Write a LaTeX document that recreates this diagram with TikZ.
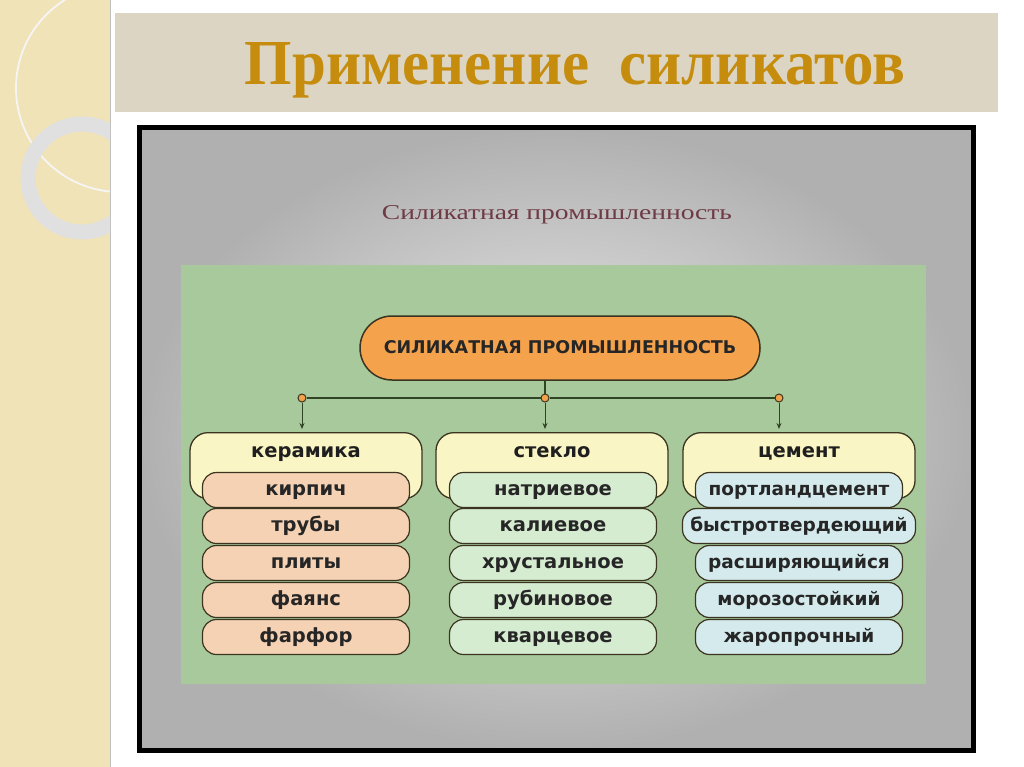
\documentclass[tikz,border=0pt]{standalone}
\usepackage{fontspec}
\setmainfont{Liberation Serif}
\newfontfamily\sansb{DejaVu Sans}
\usetikzlibrary{arrows.meta}
\definecolor{strip}{HTML}{F1E3B8}
\definecolor{band}{HTML}{DCD5C3}
\definecolor{titlec}{HTML}{C58C0E}
\definecolor{panel}{HTML}{A8C99B}
\definecolor{orangec}{HTML}{F5A24C}
\definecolor{yellowc}{HTML}{FAF5C4}
\definecolor{peach}{HTML}{F6D2B4}
\definecolor{lgreen}{HTML}{D6ECD0}
\definecolor{lcyan}{HTML}{D4EAEC}
\definecolor{edge}{HTML}{3A3420}
\definecolor{linec}{HTML}{2E4424}
\definecolor{subc}{HTML}{6E3A44}
\tikzset{
  cat/.style={draw=edge, line width=1.3pt, fill=yellowc, rounded corners=18pt,
    minimum width=232pt, minimum height=66pt},
  cattext/.style={font=\sansb\bfseries\fontsize{19.5}{20}\selectfont, text=black!88,
    text height=14pt, text depth=4pt, inner sep=0pt},
  item/.style={draw=edge, line width=1.2pt, rounded corners=14pt,
    minimum width=207pt, minimum height=35pt, inner sep=0pt,
    text height=14pt, text depth=4pt,
    font=\sansb\bfseries\fontsize{19.5}{20}\selectfont, text=black!85},
  citem/.style={item, fill=peach},
  gitem/.style={item, fill=lgreen},
  zitem/.style={item, fill=lcyan, font=\sansb\bfseries\fontsize{18.5}{19}\selectfont},
  joint/.style={circle, draw=edge, fill=orangec, line width=1pt, minimum size=8pt, inner sep=0pt},
  conn/.style={draw=linec, line width=1.3pt},
  arr/.style={draw=linec, line width=1pt, -{Stealth[length=6pt,width=5pt]}, shorten >=3pt},
}
\begin{document}
\begin{tikzpicture}[x=1pt,y=-1pt]
\useasboundingbox (0,0) rectangle (1024,767);
\fill[white] (0,0) rectangle (1024,767);
% left strip
\fill[strip] (0,0) rectangle (110,767);
\draw[black!25, line width=0.8pt] (110,0) -- (110,767);
\begin{scope}
\clip (0,0) rectangle (110,767);
\draw[white!92!gray, line width=1.8pt] (120,88) circle (104);
\draw[gray!24, line width=15pt] (82,178) circle (54);
\end{scope}
% title band
\fill[band] (115,13) rectangle (998,112);
\node[text=titlec, font=\bfseries, anchor=base, inner sep=0pt] (title) at (575,85)
  {\resizebox{660pt}{42pt}{Применение\ \ силикатов}};
% black frame
\shade[inner color=gray!12, outer color=gray!62] (139,128) rectangle (973,750);
\draw[black, line width=5pt] (139,128) rectangle (973,750);
\node[text=subc, anchor=base, inner sep=0pt] (sub) at (557,219)
  {\resizebox{350pt}{14pt}{Силикатная промышленность}};
% green panel
\fill[panel] (181,265) rectangle (926,684);
% top node
\node[draw=edge, line width=1.5pt, fill=orangec, rounded corners=32pt,
  minimum width=400pt, minimum height=64pt, text height=13pt, text depth=3pt,
  font=\sansb\bfseries\fontsize{17.5}{18}\selectfont, text=black!85] (top) at (560,348)
  {СИЛИКАТНАЯ ПРОМЫШЛЕННОСТЬ};
% joints
\node[joint] (j1) at (302,398) {};
\node[joint] (j2) at (545,398) {};
\node[joint] (j3) at (779,398) {};
\draw[conn] (top.south -| j2) -- (j2.north);
\draw[conn] (j1.east) -- (j2.west);
\draw[conn] (j2.east) -- (j3.west);
% categories
\node[cat, anchor=north] (k) at (306,432) {};
\node[cat, anchor=north] (s) at (552,432) {};
\node[cat, anchor=north] (c) at (799,432) {};
\node[cattext] (kt) at (306,452) {керамика};
\node[cattext] (st) at (552,452) {стекло};
\node[cattext] (ct) at (799,452) {цемент};
\draw[arr] (j1.south) -- (k.north -| j1);
\draw[arr] (j2.south) -- (s.north -| j2);
\draw[arr] (j3.south) -- (c.north -| j3);
% ceramics
\node[citem] (k1) at (306,490) {кирпич};
\node[citem] (k2) at (306,526) {трубы};
\node[citem] (k3) at (306,563) {плиты};
\node[citem] (k4) at (306,600) {фаянс};
\node[citem] (k5) at (306,637) {фарфор};
% glass
\node[gitem] (s1) at (553,490) {натриевое};
\node[gitem] (s2) at (553,526) {калиевое};
\node[gitem] (s3) at (553,563) {хрустальное};
\node[gitem] (s4) at (553,600) {рубиновое};
\node[gitem] (s5) at (553,637) {кварцевое};
% cement
\node[zitem] (c1) at (799,490) {портландцемент};
\node[zitem, minimum width=233pt] (c2) at (799,526) {быстротвердеющий};
\node[zitem] (c3) at (799,563) {расширяющийся};
\node[zitem] (c4) at (799,600) {морозостойкий};
\node[zitem] (c5) at (799,637) {жаропрочный};
\end{tikzpicture}
\end{document}
